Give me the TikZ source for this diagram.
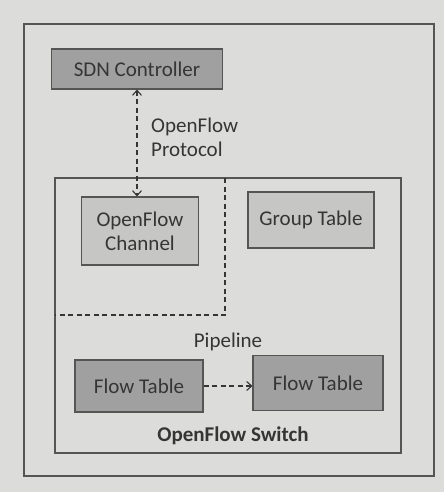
\documentclass[tikz,border=0pt]{standalone}
\usepackage{fontspec}
\setmainfont{Carlito}
\usetikzlibrary{arrows.meta}
\definecolor{page}{HTML}{DCDCDA}
\definecolor{ink}{HTML}{353535}
\definecolor{line}{HTML}{555555}
\definecolor{dark}{HTML}{A0A0A0}
\definecolor{light}{HTML}{C6C6C4}
\tikzset{
  box/.style={draw=line, line width=1.1pt, text=ink, inner sep=0pt, align=center, font=\fontsize{21}{24}\selectfont},
  darkbox/.style={box, fill=dark},
  lightbox/.style={box, fill=light},
  lbl/.style={text=ink, font=\fontsize{21}{24}\selectfont, inner sep=0pt},
  dashline/.style={draw=ink, line width=1.1pt, dash pattern=on 5pt off 3.5pt},
  tip/.style={-{Straight Barb[length=5pt,width=9pt]}},
  tips/.style={{Straight Barb[length=5pt,width=9pt]}-{Straight Barb[length=5pt,width=9pt]}}
}
\begin{document}
\begin{tikzpicture}[x=1pt,y=-1pt]
\fill[page] (0,0) rectangle (444,492);
\useasboundingbox (0,0) rectangle (444,492);
% outer frame
\draw[line, line width=1.1pt] (24,24) rectangle (434,476);
% switch box
\draw[line, line width=1.1pt] (55,178) rectangle (401,453);
% nodes
\node[darkbox, minimum width=171pt, minimum height=40pt] (sdn) at (137,69) {SDN Controller};
\node[lightbox, minimum width=117pt, minimum height=68pt] (chan) at (140,231) {OpenFlow\\Channel};
\node[lightbox, minimum width=126pt, minimum height=56pt] (group) at (311,220) {Group Table};
\node[darkbox, minimum width=128pt, minimum height=52pt] (ft1) at (139,386) {Flow Table};
\node[darkbox, minimum width=130pt, minimum height=55pt] (ft2) at (318,383) {Flow Table};
\node[lbl, align=left, anchor=west] (proto) at (151,137) {OpenFlow\\Protocol};
\node[lbl] (pipe) at (228,342) {Pipeline};
\node[lbl, font=\fontsize{21}{24}\selectfont\bfseries] (sw) at (233,436) {OpenFlow Switch};
% divider
\coordinate (d1) at (225,178);
\coordinate (d2) at (225,315);
\coordinate (d3) at (55,315);
\draw[dashline] (d1) -- (d2) -- (d3);
% connectors
\draw[dashline, tips] (sdn.south) -- (chan.north -| sdn.south);
\draw[dashline, tip] (ft1.east) -- (ft2.west |- ft1.east);
\end{tikzpicture}
\end{document}
